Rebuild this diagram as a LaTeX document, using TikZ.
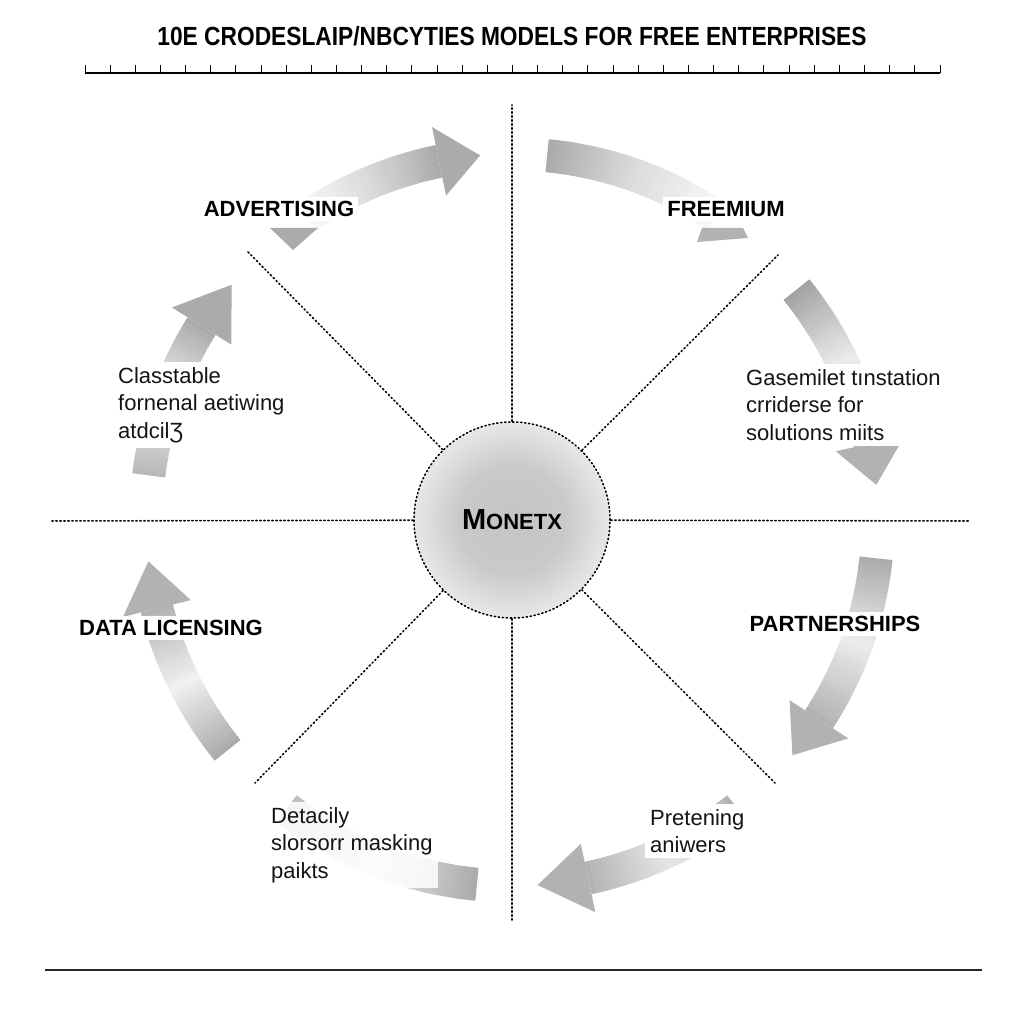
\documentclass[tikz,border=0pt]{standalone}
\usepackage{fontspec}
\usepackage{graphicx}
\setmainfont{Liberation Sans}
\newcommand\bandR{366}
\newcommand\gband[5]{%
  \foreach \k in {0,...,39}{%
    \pgfmathsetmacro\aS{#1+(#2-#1)*\k/40}%
    \pgfmathsetmacro\aE{#1+(#2-#1)*min(\k+1.5,40)/40}%
    \pgfmathsetmacro\tt{\k/39}%
    \pgfmathtruncatemacro\cc{\tt<0.5 ? #3+(#4-#3)*2*\tt : #4+(#5-#4)*(2*\tt-1)}%
    \draw[line width=33pt, black!\cc] ([shift={(C)}]\aS:\bandR) arc[start angle=\aS, end angle=\aE, radius=\bandR];
  }}
\newcommand\ghead[3]{%
  \fill[black!#3] ([shift={(C)}]{#1}:{\bandR-35}) -- ([shift={(C)}]{#1}:{\bandR+35}) -- ([shift={(C)}]{#2}:{\bandR}) -- cycle;}
\pgfdeclareradialshading{blob}{\pgfpoint{0bp}{0bp}}{color(0bp)=(black!23); color(14bp)=(black!21); color(34bp)=(white); color(50bp)=(white)}
\begin{document}
\begin{tikzpicture}[x=1pt,y=1pt,
  dotline/.style={line width=1.6pt, dash pattern=on 1.4pt off 2.6pt, line cap=round},
  lbl/.style={font=\fontsize{22}{26}\selectfont\bfseries, fill=white, inner sep=4pt, text=black},
  body/.style={font=\fontsize{22}{27.5}\selectfont, align=left, fill=white, inner sep=5pt, anchor=west, text=black!92},
]
\fill[white] (0,0) rectangle (1024,1024);
\useasboundingbox (0,0) rectangle (1024,1024);
\coordinate (C) at (512,504);

% title and ruler
\node[font=\fontsize{25}{28}\selectfont\bfseries, text=black] (title) at (512,988)
  {\scalebox{0.91}[1.05]{10E CRODESLAIP/NBCYTIES MODELS FOR FREE ENTERPRISES}};
\coordinate (rl) at (85,951);
\coordinate (rr) at (940,951);
\draw[line width=1.2pt] (rl) -- (rr);
\foreach \i in {0,...,34} \draw[line width=1pt] ({85+\i*25.147},951) -- ++(0,8);
\coordinate (bl) at (45,54);
\coordinate (br) at (982,54);
\draw[line width=1.4pt, black!85] (bl) -- (br);

% arrows
\gband{124}{101.5}{3}{15}{33}\ghead{101.5}{95}{33}
\gband{84.5}{56}{33}{14}{3}
\gband{39}{12}{36}{8}{30}\ghead{12}{5.5}{30}
\gband{-6}{-33}{33}{8}{30}\ghead{-33}{-40}{30}
\gband{-52}{-78}{30}{10}{30}\ghead{-78}{-86}{30}
\gband{-95.5}{-128}{33}{8}{25}
\gband{-141}{-166}{33}{6}{30}\ghead{-166}{-173.5}{30}
\gband{173}{148}{28}{6}{33}\ghead{148}{140}{33}

% centre
\shade[shading=blob] (C) circle[radius=97];
\node[circle, draw, dotline, minimum size=196pt, inner sep=0pt, text=black] (m) at (C)
  {\bfseries\fontsize{29}{30}\selectfont M\fontsize{22}{24}\selectfont ONETX};

% dotted spokes
\coordinate (pT) at (512,919);
\coordinate (pB) at (512,104);
\coordinate (pL) at (52,503);
\coordinate (pR) at (970,503);
\coordinate (pUL) at (248,772);
\coordinate (pUR) at (778,769);
\coordinate (pLL) at (255,241);
\coordinate (pLR) at (775,241);
\foreach \p in {pT,pB,pL,pR,pUL,pUR,pLL,pLR} \draw[dotline] (m) -- (\p);

% labels
\node[lbl] (adv) at (279,815) {ADVERTISING};
\fill[black!33] (270,796) -- (318,796) -- (293,774) -- cycle;
\node[lbl] (fre) at (726,815) {FREEMIUM};
\fill[black!30] (697,782) -- (702,796) -- (743,796) -- (748,786) -- cycle;
\node[lbl] (dat) at (171,396) {DATA LICENSING};
\node[lbl] (par) at (835,400) {PARTNERSHIPS};

\node[body] (t1) at (113,619) {Classtable\\fornenal aetiwing\\atdcilƷ};
\node[body] (t2) at (741,619) {Gasemilet tınstation\\crriderse for\\solutions miits};
\node[body, fill opacity=0.85, text opacity=1] (t3) at (266,179) {Detacily\\slorsorr masking\\paikts};
\node[body] (t4) at (645,193) {Pretening\\aniwers};
\end{tikzpicture}
\end{document}
